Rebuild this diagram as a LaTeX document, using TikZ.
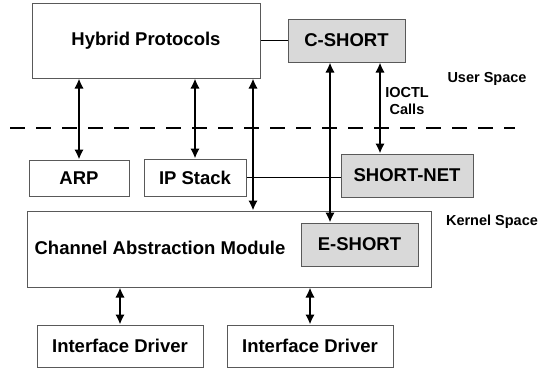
\documentclass[tikz,border=0pt]{standalone}
\usepackage{fontspec}
\setmainfont{Liberation Sans}
\usetikzlibrary{arrows.meta}
\begin{document}
\begin{tikzpicture}[x=1pt,y=-1pt,
  box/.style={draw=black!65,line width=1pt,inner sep=0pt,font=\bfseries\fontsize{18.5}{20}\selectfont},
  gbox/.style={box,fill=black!15},
  conn/.style={line width=2.4pt,black},
  link/.style={line width=1.6pt,black},
  biarrow/.style={conn,{Latex[length=10pt,width=9.5pt]}-{Latex[length=10pt,width=9.5pt]}},
  side/.style={font=\bfseries\fontsize{14.5}{17}\selectfont,align=center,inner sep=0pt}]
\useasboundingbox (0,0) rectangle (539,372);
\node[box,minimum width=228pt,minimum height=75pt] (hp) at (146,40.5) {Hybrid Protocols};
\node[gbox,minimum width=117pt,minimum height=43pt] (cs) at (346.5,40.5) {C-SHORT};
\node[box,minimum width=100pt,minimum height=36pt] (arp) at (79,178) {ARP};
\node[box,minimum width=102pt,minimum height=37pt] (ip) at (195,177.5) {IP Stack};
\node[gbox,minimum width=132pt,minimum height=43pt] (sn) at (407,175.5) {SHORT-NET};
\node[box,minimum width=404pt,minimum height=76pt] (cam) at (229,249) {};
\node[inner sep=0pt,font=\bfseries\fontsize{18.5}{20}\selectfont] (caml) at (160,248) {Channel Abstraction Module};
\node[gbox,minimum width=117pt,minimum height=43pt] (es) at (359.5,244.5) {E-SHORT};
\node[box,minimum width=166pt,minimum height=42pt] (id1) at (120,346) {Interface Driver};
\node[box,minimum width=166pt,minimum height=42pt] (id2) at (310,346) {Interface Driver};
\node[side] (us) at (487,79) {User Space};
\node[side] (ks) at (492,222) {Kernel Space};
\node[side] (ioctl) at (407,101) {IOCTL\\Calls};
\coordinate (v1) at (253,0);
\coordinate (v2) at (330,0);
\coordinate (v3) at (380,0);
\coordinate (d1) at (10,128);
\coordinate (d2) at (515,128);
\draw[line width=2.4pt,dash pattern=on 15pt off 11pt] (d1) -- (d2);
\draw[biarrow] (arp.north) -- (arp.north |- hp.south);
\draw[biarrow] (ip.north) -- (ip.north |- hp.south);
\draw[biarrow] (hp.south -| v1) -- (cam.north -| v1);
\draw[biarrow] (cs.south -| v2) -- (es.north -| v2);
\draw[biarrow] (cs.south -| v3) -- (sn.north -| v3);
\draw[link] (hp.east) -- (cs.west);
\draw[link] (ip.east) -- (ip.east -| sn.west);
\draw[biarrow] (id1.north) -- (id1.north |- cam.south);
\draw[biarrow] (id2.north) -- (id2.north |- cam.south);
\end{tikzpicture}
\end{document}
